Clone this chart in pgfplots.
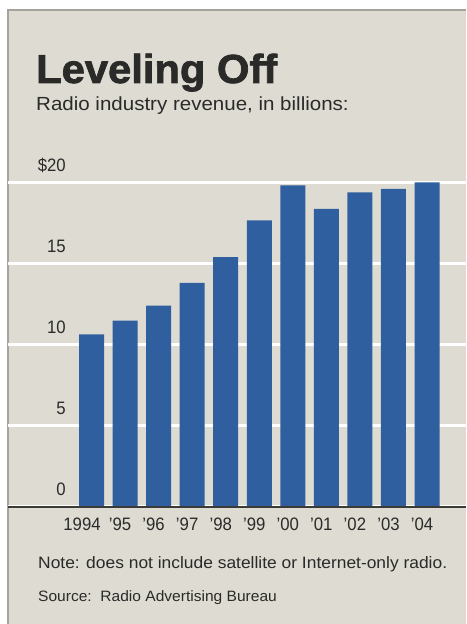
\documentclass[border=0pt]{standalone}
\usepackage{pgfplots}
\pgfplotsset{compat=1.18}
\usepackage{fontspec}
\setmainfont{Liberation Sans}
\newfontfamily\titlefont[FakeStretch=1.03,BoldFeatures={FakeBold=1.8}]{Liberation Sans}
\newfontfamily\subfont[FakeStretch=1.08]{Liberation Sans}
\newfontfamily\tickfont[FakeStretch=0.93]{Liberation Sans}
\newfontfamily\notefont[FakeStretch=1.055]{Liberation Sans}
\newfontfamily\sourcefont[FakeStretch=1.037]{Liberation Sans}
\definecolor{panel}{HTML}{DDDBD2}
\definecolor{panelborder}{HTML}{A5A49C}
\definecolor{barblue}{HTML}{2F5F9E}
\definecolor{axisdark}{HTML}{3A3A36}
\definecolor{txt}{HTML}{2A2A28}
\begin{document}
\begin{tikzpicture}[x=1pt,y=1pt]
\useasboundingbox (0,0) rectangle (466,624);
\fill[white] (0,0) rectangle (466,624);
\fill[panel] (8,0) rectangle (466,614);
\draw[panelborder, line width=1.5pt] (8,0) -- (8,614) -- (466,614);
\node[anchor=base west, inner sep=0pt, text=txt] at (36,541)
  {\titlefont\bfseries\fontsize{40.5}{40.5}\selectfont Leveling Off};
\node[anchor=base west, inner sep=0pt, text=txt] at (36,513)
  {\subfont\fontsize{19}{19}\selectfont Radio industry revenue, in billions:};
\begin{axis}[
  at={(8pt,117pt)}, anchor=south west,
  scale only axis, width=458pt, height=340.2pt,
  xmin=-2.489, xmax=11.162, ymin=0, ymax=21,
  clip=false,
  axis line style={draw=none},
  major tick length=0pt,
  ytick={0,5,10,15,20},
  yticklabels={0,5,10,15,\$20},
  xtick={0,...,10},
  xticklabels={1994\kern9pt,’95,’96,’97,’98,’99,’00,’01,’02,’03,’04},
  ymajorgrids,
  grid style={white, line width=3pt},
  yticklabel style={anchor=base east, inner sep=0pt, xshift=58pt, yshift=11pt,
    font=\tickfont\fontsize{18}{18}\selectfont, text=txt},
  xticklabel style={anchor=north, inner sep=0pt, yshift=-11pt, xshift=-5pt,
    font=\tickfont\fontsize{18}{18}\selectfont, text=txt},
]
\addplot[ybar, bar width=25pt, fill=barblue, draw=none] coordinates {
  (0,10.65) (1,11.5) (2,12.43) (3,13.83) (4,15.43) (5,17.69)
  (6,19.85) (7,18.4) (8,19.42) (9,19.63) (10,20.04)
};
\draw[axisdark, line width=2pt] (axis cs:-2.489,0) -- (axis cs:11.162,0);
\end{axis}
\node[anchor=base west, inner sep=0pt, text=txt] at (38,55)
  {\notefont\fontsize{16.5}{16.5}\selectfont Note: does not include satellite or Internet-only radio.};
\node[anchor=base west, inner sep=0pt, text=txt] at (38,23)
  {\sourcefont\fontsize{15}{15}\selectfont Source:\ \ Radio Advertising Bureau};
\end{tikzpicture}
\end{document}
